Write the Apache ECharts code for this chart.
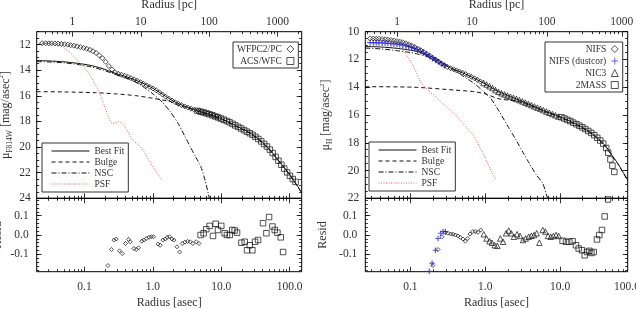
<!DOCTYPE html>
<html>
<head>
<meta charset="utf-8">
<script src="https://cdn.jsdelivr.net/npm/echarts@6/dist/echarts.min.js"></script>
<style>
html, body { margin: 0; padding: 0; background: #fff; }
#main { width: 636px; height: 309px; }
</style>
</head>
<body>
<div id="main"></div>
<script>
// ---------- tick labels ----------
var asecTicks = [0.1, 1, 10, 100];
var pcTicks = [1, 10, 100, 1000];
var magTicksI = [12, 14, 16, 18, 20, 22, 24];
var magTicksH = [10, 12, 14, 16, 18, 20, 22];
var residTicks = [-0.1, 0, 0.1];
var PC_PER_ASEC = 15;

// ---------- left panel: F814W ----------
var wfpcR = [0.024,0.027,0.030,0.033,0.037,0.041,0.046,0.051,0.057,0.063,0.070,0.078,0.087,0.097,0.108,0.120,0.133,0.148,0.165,0.183,0.204,0.227,0.252,0.280,0.312,0.347,0.386,0.429,0.477,0.531,0.590,0.657,0.730,0.812,0.904,1.005,1.118,1.244,1.383,1.539,1.712,1.904,2.118,2.356,2.620,2.915,3.242,3.607,4.012,4.463,4.964,5.52,6.14,6.83,7.6,8.45,9.4];
var wfpcMag = [11.90,11.90,11.91,11.91,11.92,11.93,11.95,11.98,12.01,12.05,12.09,12.14,12.20,12.26,12.33,12.41,12.52,12.66,12.85,13.07,13.35,13.68,13.95,14.17,14.28,14.36,14.44,14.52,14.62,14.72,14.82,14.94,15.07,15.19,15.31,15.43,15.57,15.73,15.90,16.07,16.23,16.37,16.50,16.62,16.73,16.83,16.92,17.01,17.09,17.17,17.24,17.31,17.38,17.45,17.53,17.62,17.72];
var acsR = [4.5,5.0,5.5,6.1,6.7,7.4,8.2,9.0,9.9,10.9,12.0,13.2,14.6,16.0,17.7,19.5,21.5,23.7,26.1,28.7,31.6,34.8,38.4,42.3,46.6,51.3,56.5,62.3,68.6,75.6,83.3,91.7,101,111,122];
var acsMag = [17.18,17.24,17.30,17.37,17.44,17.52,17.61,17.69,17.78,17.87,17.97,18.07,18.19,18.31,18.43,18.55,18.68,18.80,18.92,19.05,19.20,19.37,19.56,19.76,19.96,20.20,20.47,20.77,21.07,21.38,21.68,21.98,22.25,22.50,22.72];
var fitIR = [0.02,0.03,0.05,0.08,0.12,0.18,0.25,0.35,0.5,0.7,1.0,1.4,2.0,3.0,5.0,8.0,12,18,27,40,55,75,105,150];
var fitIMag = [13.25,13.28,13.35,13.47,13.62,13.86,14.15,14.40,14.68,15.00,15.42,15.90,16.42,16.84,17.24,17.58,17.97,18.45,18.93,19.63,20.40,21.30,22.30,23.55];
var bulgeIR = [0.02,0.05,0.145,0.3,0.56,1.0,1.82,2.5,3.0,5.0,8.0,12,18,27,40,55,75,105,150];
var bulgeIMag = [15.68,15.70,15.76,15.86,15.99,16.20,16.46,16.78,16.89,17.28,17.62,18.01,18.49,18.97,19.67,20.44,21.34,22.34,23.59];
var nscIR = [0.02,0.03,0.05,0.08,0.12,0.18,0.25,0.35,0.5,0.7,1.0,1.4,1.8,2.3,2.9,3.5,4.2,5.0,5.8,6.5,6.9];
var nscIMag = [13.33,13.36,13.43,13.56,13.73,13.97,14.23,14.50,14.80,15.25,15.85,16.55,17.25,18.10,19.10,19.95,20.75,21.50,22.60,23.70,24.30];
var psfIR = [0.022,0.03,0.042,0.059,0.083,0.116,0.153,0.182,0.215,0.254,0.29,0.318,0.376,0.44,0.50,0.62,0.75,0.87,1.05,1.30,1.40];
var psfIMag = [11.90,11.93,12.04,12.56,13.34,14.25,15.42,16.33,17.37,18.15,18.10,18.02,18.28,18.90,19.45,19.84,20.40,21.01,21.70,22.44,22.57];
var wfpcResR = [0.22,0.248,0.269,0.291,0.325,0.356,0.398,0.44,0.466,0.528,0.571,0.618,0.69,0.739,0.80,0.875,0.946,1.02,1.19,1.28,1.40,1.52,1.62,1.75,1.90,2.03,2.25,2.46,2.69,2.94,3.22,3.52,3.85,4.31,4.72];
var wfpcRes = [-0.158,-0.075,-0.026,-0.021,-0.082,-0.096,-0.044,-0.023,-0.035,-0.07,-0.075,-0.066,-0.032,-0.026,-0.018,-0.012,-0.009,-0.009,-0.047,-0.053,-0.026,-0.021,-0.012,-0.009,-0.021,-0.026,-0.061,-0.088,-0.044,-0.037,-0.033,-0.035,-0.044,-0.035,-0.044];
var acsResR = [4.99,5.52,6.04,6.76,7.57,8.28,8.96,10.0,11.2,12.1,13.3,14.5,15.7,17.0,19.7,22.0,23.8,26.1,28.5,31.2,34.5,40.8,45.7,50.0,56.0,60.5,66.2,74.1,80.2];
var acsRes = [0.0,0.009,0.03,0.047,-0.005,0.058,0.026,0.047,0.009,0.0,0.0,0.026,0.023,0.012,-0.04,-0.035,-0.079,-0.053,-0.079,-0.035,-0.026,0.061,0.009,0.093,0.044,0.026,0.012,-0.012,-0.088];

// ---------- right panel: H ----------
var nifsR = [0.029,0.032,0.035,0.038,0.042,0.046,0.050,0.055,0.060,0.066,0.072,0.079,0.087,0.095,0.104,0.114,0.125,0.137,0.150,0.165,0.181,0.198,0.217,0.238,0.261,0.286,0.314,0.344,0.377,0.413,0.453,0.497,0.545,0.597,0.655,0.718,0.787,0.863];
var nifsMag = [10.48,10.49,10.50,10.51,10.53,10.55,10.57,10.60,10.63,10.67,10.71,10.76,10.83,10.91,11.00,11.10,11.21,11.33,11.45,11.58,11.72,11.87,12.00,12.15,12.30,12.43,12.54,12.63,12.71,12.79,12.87,12.96,13.05,13.15,13.25,13.36,13.47,13.59];
var dustR = [0.029,0.032,0.035,0.038,0.042,0.046,0.050,0.055,0.060,0.066,0.072,0.079,0.087,0.095,0.104,0.114,0.125,0.137,0.150,0.165,0.181,0.198,0.217,0.238,0.261,0.286];
var dustMag = [10.79,10.79,10.80,10.80,10.81,10.82,10.84,10.86,10.88,10.90,10.93,10.97,11.02,11.08,11.14,11.22,11.31,11.41,11.52,11.64,11.78,11.93,12.06,12.19,12.31,12.43];
var nic3R = [0.95,1.04,1.14,1.25,1.37,1.50,1.65,1.81,1.98,2.17,2.38,2.61,2.86,3.14,3.44,3.77,4.13,4.53,4.97,5.45,5.97,6.55,7.18,7.87,8.63,9.46];
var nic3Mag = [13.69,13.80,13.93,14.06,14.21,14.33,14.43,14.52,14.60,14.68,14.76,14.84,14.93,15.02,15.11,15.20,15.29,15.38,15.47,15.56,15.65,15.75,15.84,15.93,16.02,16.11];
var tmassR = [10.4,11.4,12.5,13.7,15.0,16.5,18.1,19.8,21.7,23.8,26.1,28.6,31.4,34.4,37.7,41.3,44.0,47.0,50.0,53.0];
var tmassMag = [16.16,16.25,16.35,16.44,16.55,16.66,16.77,16.89,17.01,17.15,17.29,17.45,17.64,17.84,18.06,18.38,18.72,19.20,19.65,20.10];
var fitHR = [0.025,0.04,0.067,0.1,0.124,0.16,0.229,0.3,0.4,0.5,0.7,1.0,1.4,2.0,3.0,4.5,6.5,10,15,20,25,30,40,50,60,70,80];
var fitHMag = [11.07,11.10,11.20,11.33,11.43,11.62,12.00,12.45,12.76,12.96,13.33,13.76,14.22,14.60,14.98,15.38,15.75,16.12,16.55,16.90,17.22,17.55,18.20,18.95,19.55,20.15,20.70];
var bulgeHR = [0.025,0.112,0.383,0.71,1.0,1.45,1.7,2.2,3.0,4.5,6.5,10,15,20,25,30,40,50,60,70,80];
var bulgeHMag = [13.96,14.00,14.20,14.32,14.48,14.80,14.88,14.95,15.08,15.43,15.79,16.16,16.59,16.94,17.26,17.59,18.24,18.99,19.59,20.19,20.74];
var nscHR = [0.025,0.04,0.067,0.1,0.124,0.17,0.229,0.3,0.383,0.5,0.71,0.9,1.18,1.54,2.0,2.58,3.2,3.88,4.8,5.86,6.49,6.9];
var nscHMag = [11.18,11.24,11.37,11.50,11.60,11.80,12.09,12.40,12.76,13.18,13.72,14.20,14.80,15.75,16.80,17.80,18.70,19.48,20.30,20.92,21.64,22.10];
var psfHR = [0.025,0.05,0.07,0.087,0.11,0.14,0.18,0.22,0.3,0.4,0.52,0.7,0.96,1.24,1.37];
var psfHMag = [10.6,10.7,11.0,11.6,12.5,13.7,14.3,14.7,15.4,16.0,16.7,17.5,18.9,20.2,20.6];
var dustResR = [0.179,0.195,0.216,0.234,0.254,0.273,0.293];
var dustRes = [-0.188,-0.146,-0.079,-0.018,0.009,0.018,0.018];
var nifsResR = [0.199,0.234,0.265,0.293,0.318,0.346,0.372,0.40,0.433,0.466,0.505,0.543,0.583,0.627,0.681,0.738,0.80,0.87];
var nifsRes = [-0.158,-0.075,-0.009,0.012,0.009,0.005,0.004,0.0,-0.005,-0.012,-0.021,-0.032,-0.018,0.005,0.018,0.018,0.014,0.026];
var nic3ResR = [0.955,1.04,1.14,1.23,1.34,1.45,1.59,1.73,1.90,2.06,2.23,2.42,2.66,2.92,3.2,3.47,3.8,4.13,4.49,4.87,5.29,5.86,6.36,6.9,7.49,8.13,8.83,9.58];
var nic3Res = [0.004,-0.018,-0.032,-0.04,-0.053,-0.056,-0.018,-0.035,0.009,0.023,0.009,-0.009,0.004,-0.005,-0.026,-0.018,-0.009,-0.004,0.0,0.009,-0.04,0.026,0.018,-0.005,-0.009,-0.005,0.0,-0.005];
var tmassResR = [10.8,12.0,13.3,14.7,16.3,17.7,19.6,21.3,22.9,24.6,26.2,28.1,31.1,33.4,36.3,39.4,43.7];
var tmassRes = [-0.03,-0.035,-0.035,-0.032,-0.053,-0.07,-0.079,-0.105,-0.088,-0.082,-0.093,-0.088,-0.023,0.0,0.026,0.096,0.184];

// ---------- helpers ----------
var FONT = '"Liberation Serif", "DejaVu Serif", serif';
var TXT = '#333';
var BLUE = '#3030e0';
var RED = '#e06060';

function pts(xs, ys) {
  return xs.map(function (x, i) { return [x, ys[i]]; });
}
function logMinor(min, max) {
  var out = [];
  for (var e = -3; e <= 4; e++) {
    for (var k = 2; k <= 9; k++) {
      var v = parseFloat((k * Math.pow(10, e)).toPrecision(6));
      if (v > min && v < max) out.push(v);
    }
  }
  return out;
}
function linMinor(min, max, step) {
  var out = [];
  for (var v = Math.ceil(min / step - 1e-9) * step; v <= max + 1e-9; v += step) {
    out.push(parseFloat(v.toFixed(4)));
  }
  return out;
}

var option = {
  backgroundColor: '#fff',
  animation: false,
  grid: [], xAxis: [], yAxis: [], series: [], legend: []
};

function addGrid(l, t, w, h, border) {
  option.grid.push({ left: l, top: t, width: w, height: h, show: !!border,
    outerBoundsMode: 'none', containLabel: false,
    borderColor: '#000', borderWidth: 1, backgroundColor: 'transparent' });
  return option.grid.length - 1;
}
function addAxis(kind, grid, pos, type, min, max, vals, len, extra) {
  var ax = {
    type: type, gridIndex: grid, position: pos, min: min, max: max,
    axisLine: { show: false, onZero: false }, splitLine: { show: false }, minorTick: { show: false },
    axisTick: { show: true, inside: true, length: len, customValues: vals,
      lineStyle: { color: '#000', width: 0.8 } },
    axisLabel: { show: false }
  };
  if (extra) Object.keys(extra).forEach(function (k) { ax[k] = extra[k]; });
  option[kind].push(ax);
  return option[kind].length - 1;
}
function labelStyle(vals, fmt, margin) {
  return { show: true, customValues: vals, formatter: fmt, margin: margin,
    fontFamily: FONT, fontSize: 11.5, color: TXT };
}
var nameStyle = { fontFamily: FONT, fontSize: 12, color: TXT };
var asecFmt = function (v) { return v < 1 ? String(v) : v.toFixed(1); };
var plainFmt = function (v) { return String(v); };
var resFmt = function (v) { return v.toFixed(1); };

var MAIN_TOP = 31.7, MAIN_H = 166.6, RES_TOP = 198.3, RES_H = 73.4;

var panels = [
  { left: 36.7, width: 265, rMin: 0.02, rMax: 150, magMin: 11, magMax: 24, magTicks: magTicksI,
    yName: '{m|μ}{s|F814W}{m| [mag/asec}{p|2}{m|]}', yGap: 23, resGap: 33 },
  { left: 365.3, width: 262.4, rMin: 0.025, rMax: 80, magMin: 10, magMax: 22, magTicks: magTicksH,
    yName: '{m|μ}{s|H}{m| [mag/asec}{p|2}{m|]}', yGap: 31, resGap: 36 }
];

panels.forEach(function (p) {
  var gM = addGrid(p.left, MAIN_TOP, p.width, MAIN_H, true);
  var gMm = addGrid(p.left, MAIN_TOP, p.width, MAIN_H, false);
  var gR = addGrid(p.left, RES_TOP, p.width, RES_H, true);
  var gRm = addGrid(p.left, RES_TOP, p.width, RES_H, false);
  var pcMin = p.rMin * PC_PER_ASEC, pcMax = p.rMax * PC_PER_ASEC;

  // main panel axes
  p.xM = addAxis('xAxis', gM, 'bottom', 'log', p.rMin, p.rMax, asecTicks, 5);
  addAxis('xAxis', gM, 'top', 'log', pcMin, pcMax, pcTicks, 5, {
    axisLabel: labelStyle(pcTicks, plainFmt, 4),
    name: 'Radius [pc]', nameLocation: 'middle', nameGap: 21, nameTextStyle: nameStyle
  });
  addAxis('xAxis', gMm, 'bottom', 'log', p.rMin, p.rMax, logMinor(p.rMin, p.rMax), 2.5);
  addAxis('xAxis', gMm, 'top', 'log', pcMin, pcMax, logMinor(pcMin, pcMax), 2.5);
  p.yM = addAxis('yAxis', gM, 'left', 'value', p.magMin, p.magMax, p.magTicks, 5, {
    inverse: true,
    axisLabel: labelStyle(p.magTicks, plainFmt, 6),
    name: p.yName, nameLocation: 'middle', nameGap: p.yGap,
    nameTextStyle: { fontFamily: FONT, fontSize: 12, color: TXT, rich: {
      m: { fontFamily: FONT, fontSize: 12, color: TXT, lineHeight: 16, verticalAlign: 'middle' },
      s: { fontFamily: FONT, fontSize: 7.5, color: TXT, verticalAlign: 'bottom' },
      p: { fontFamily: FONT, fontSize: 7, color: TXT, verticalAlign: 'top' }
    } }
  });
  addAxis('yAxis', gM, 'right', 'value', p.magMin, p.magMax, p.magTicks, 5, { inverse: true });
  var magMinor = linMinor(p.magMin, p.magMax, 0.5);
  addAxis('yAxis', gMm, 'left', 'value', p.magMin, p.magMax, magMinor, 2.5, { inverse: true });
  addAxis('yAxis', gMm, 'right', 'value', p.magMin, p.magMax, magMinor, 2.5, { inverse: true });

  // residual panel axes
  p.xR = addAxis('xAxis', gR, 'bottom', 'log', p.rMin, p.rMax, asecTicks, 5, {
    axisLabel: labelStyle(asecTicks, asecFmt, 9),
    name: 'Radius [asec]', nameLocation: 'middle', nameGap: 25, nameTextStyle: nameStyle
  });
  addAxis('xAxis', gR, 'top', 'log', p.rMin, p.rMax, asecTicks, 5);
  addAxis('xAxis', gRm, 'bottom', 'log', p.rMin, p.rMax, logMinor(p.rMin, p.rMax), 2.5);
  addAxis('xAxis', gRm, 'top', 'log', p.rMin, p.rMax, logMinor(p.rMin, p.rMax), 2.5);
  p.yR = addAxis('yAxis', gR, 'left', 'value', -0.19, 0.19, residTicks, 5, {
    axisLabel: labelStyle(residTicks, resFmt, 8),
    name: 'Resid', nameLocation: 'middle', nameGap: p.resGap, nameTextStyle: nameStyle
  });
  addAxis('yAxis', gR, 'right', 'value', -0.19, 0.19, residTicks, 5);
  var resMinor = linMinor(-0.18, 0.18, 0.02);
  addAxis('yAxis', gRm, 'left', 'value', -0.19, 0.19, resMinor, 2.5);
  addAxis('yAxis', gRm, 'right', 'value', -0.19, 0.19, resMinor, 2.5);
});

function lineS(name, xs, ys, xi, yi, type, color) {
  return { type: 'line', name: name, xAxisIndex: xi, yAxisIndex: yi, data: pts(xs, ys),
    symbol: 'none', smooth: 0.25, silent: true, z: 2,
    lineStyle: { color: color || '#111', width: 1, type: type || 'solid' },
    itemStyle: { color: color || '#111' } };
}
function dotS(name, xs, ys, xi, yi, symbol, size, color, bw) {
  return { type: 'scatter', name: name, xAxisIndex: xi, yAxisIndex: yi, data: pts(xs, ys),
    symbol: symbol, symbolSize: size, silent: true, z: 3,
    itemStyle: { color: 'rgba(0,0,0,0)', borderColor: color || '#111', borderWidth: bw || 0.9 } };
}
var PLUS = 'path://M5,0L5,10M0,5L10,5';
var L = panels[0], R = panels[1];

option.series = [
  // left main
  lineS('Best Fit', fitIR, fitIMag, L.xM, L.yM),
  lineS('Bulge', bulgeIR, bulgeIMag, L.xM, L.yM, [4, 3]),
  lineS('NSC', nscIR, nscIMag, L.xM, L.yM, [5, 2, 1, 2]),
  lineS('PSF', psfIR, psfIMag, L.xM, L.yM, [1, 1.5], RED),
  dotS('WFPC2/PC', wfpcR, wfpcMag, L.xM, L.yM, 'diamond', 5),
  dotS('ACS/WFC', acsR, acsMag, L.xM, L.yM, 'rect', 5.5),
  // left resid
  dotS('WFPC2/PC', wfpcResR, wfpcRes, L.xR, L.yR, 'diamond', 4),
  dotS('ACS/WFC', acsResR, acsRes, L.xR, L.yR, 'rect', 5.5),
  // right main
  lineS('Best Fit', fitHR, fitHMag, R.xM, R.yM),
  lineS('Bulge', bulgeHR, bulgeHMag, R.xM, R.yM, [4, 3]),
  lineS('NSC', nscHR, nscHMag, R.xM, R.yM, [5, 2, 1, 2]),
  lineS('PSF', psfHR, psfHMag, R.xM, R.yM, [1, 1.5], RED),
  dotS('NIFS (dustcor)', dustR, dustMag, R.xM, R.yM, PLUS, 6, BLUE, 1.2),
  dotS('NIFS', nifsR, nifsMag, R.xM, R.yM, 'diamond', 5),
  dotS('NIC3', nic3R, nic3Mag, R.xM, R.yM, 'triangle', 5.5),
  dotS('2MASS', tmassR, tmassMag, R.xM, R.yM, 'rect', 5.5),
  // right resid
  dotS('NIFS (dustcor)', dustResR, dustRes, R.xR, R.yR, PLUS, 5.5, BLUE, 1.2),
  dotS('NIFS', nifsResR, nifsRes, R.xR, R.yR, 'diamond', 4),
  dotS('NIC3', nic3ResR, nic3Res, R.xR, R.yR, 'triangle', 5.5),
  dotS('2MASS', tmassResR, tmassRes, R.xR, R.yR, 'rect', 5.5)
];

var legendText = { fontFamily: FONT, fontSize: 9.5, color: TXT };
function symLegend(names, left) {
  return { data: names, orient: 'vertical', left: left, top: 42, align: 'right',
    selectedMode: false, itemWidth: 7, itemHeight: 7, itemGap: 2,
    padding: [2, 4, 2, 4], borderColor: '#333', borderWidth: 1, backgroundColor: '#fff',
    itemStyle: { borderWidth: 0.9 }, textStyle: legendText };
}
function lineLegend(left, top) {
  return { data: ['Best Fit', 'Bulge', 'NSC', 'PSF'], orient: 'vertical', left: left, top: top,
    align: 'left', selectedMode: false, itemWidth: 38, itemHeight: 9, itemGap: 1,
    padding: [3, 4, 3, 9], borderColor: '#333', borderWidth: 1, backgroundColor: '#fff',
    itemStyle: { opacity: 0 }, lineStyle: { width: 1 }, textStyle: legendText };
}
option.legend = [
  symLegend(['WFPC2/PC', 'ACS/WFC'], 233),
  lineLegend(42, 143),
  symLegend(['NIFS', 'NIFS (dustcor)', 'NIC3', '2MASS'], 545),
  lineLegend(369, 142)
];

var myChart = echarts.init(document.getElementById('main'), null, { renderer: 'canvas' });
myChart.setOption(option);

// the 100.0 label of the right panel lies just past the axis end and is cut by the page edge
var edgeX = myChart.convertToPixel({ xAxisIndex: R.xR }, 100);
myChart.setOption({
  graphic: [{
    type: 'text', x: edgeX - 8, y: RES_TOP + RES_H + 9, silent: true,
    style: { text: asecFmt(100), align: 'center', verticalAlign: 'top',
      fontFamily: FONT, fontSize: 11.5, fill: TXT }
  }]
});
</script>
</body>
</html>
